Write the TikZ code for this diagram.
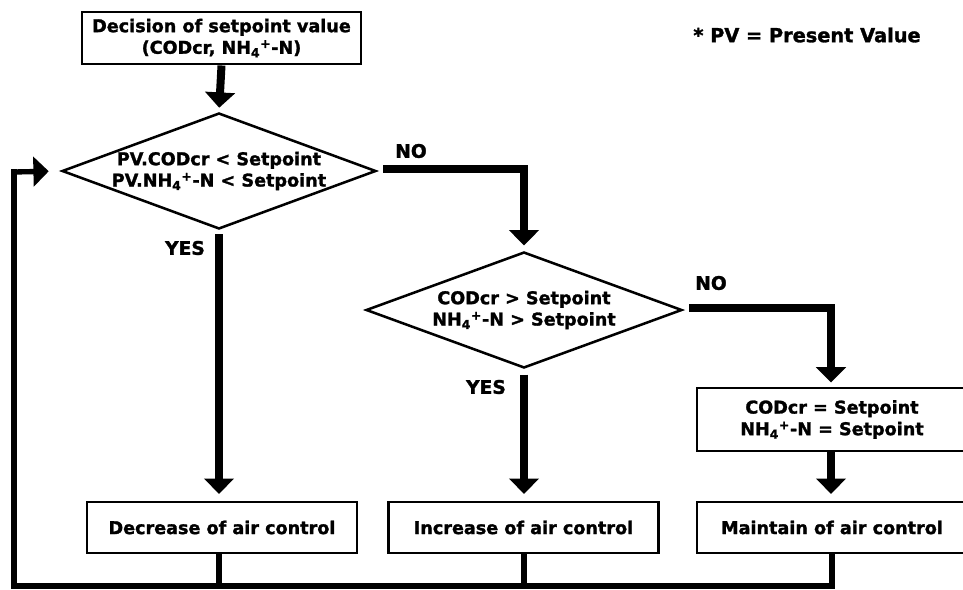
\documentclass[tikz,border=0pt]{standalone}
\usepackage{fontspec}
\setmainfont{DejaVu Sans}[BoldFeatures={FakeBold=1.5}]
\usetikzlibrary{shapes.geometric,arrows.meta}
\tikzset{
  box/.style={draw, line width=2.2pt, fill=white, inner sep=0pt, align=center, font=\bfseries\fontsize{13.2}{16.2}\selectfont},
  dia/.style={draw, diamond, line width=1.9pt, inner sep=0pt},
  dtext/.style={align=center, font=\bfseries\fontsize{13.2}{16}\selectfont},
  lbl/.style={font=\bfseries\fontsize{14}{16}\selectfont, inner sep=0pt},
  conn/.style={line width=6pt},
  back/.style={line width=4pt},
  tip/.style={-{Triangle[width=22pt,length=11.5pt]}},
}
\newcommand{\nhf}{NH\textsubscript{4}\textsuperscript{+}-N}
\begin{document}
\begin{tikzpicture}[x=0.75pt,y=-0.75pt]
\useasboundingbox (0,0) rectangle (963,589);
\clip (0,0) rectangle (963,589);
% nodes
\node[box, minimum width=209.25pt, minimum height=39pt] (top) at (221.5,38) {Decision of setpoint value\\(CODcr, \nhf)};
\node[dia, minimum width=235.5pt, minimum height=87pt] (d1) at (219,171) {};
\node[dtext] (d1t) at (d1.center) {PV.CODcr < Setpoint\\PV.\nhf{} < Setpoint};
\node[dia, minimum width=237pt, minimum height=87pt] (d2) at (524,310) {};
\node[dtext] (d2t) at (d2.center) {CODcr > Setpoint\\\nhf{} > Setpoint};
\node[box, minimum width=202.5pt, minimum height=47.25pt] (eq) at (832,419.5) {CODcr = Setpoint\\\nhf{} = Setpoint};
\node[box, minimum width=202.5pt, minimum height=38.25pt] (dec) at (222,527.5) {Decrease of air control};
\node[box, minimum width=202.5pt, minimum height=38.25pt] (inc) at (523.5,527.5) {Increase of air control};
\node[box, minimum width=202.5pt, minimum height=38.25pt] (mnt) at (832,527.5) {Maintain of air control};
\node[font=\bfseries\fontsize{14.5}{16}\selectfont, inner sep=0pt] (note) at (807,35) {* PV = Present Value};
% coordinates
\coordinate (n1a) at (383,169);
\coordinate (n2a) at (689,308);
\coordinate (n2b) at (831,308);
\coordinate (b0) at (14,586);
\coordinate (b1) at (219,586);
\coordinate (b2) at (524,586);
\coordinate (b3) at (832,586);
\coordinate (l0) at (14,172);
% labels
\node[lbl] (no1) at (411,151) {NO};
\node[lbl] (no2) at (711,283) {NO};
\node[lbl] (yes1) at (185,248) {YES};
\node[lbl] (yes2) at (486,387) {YES};
% connectors
\draw[conn, tip, shorten >=3pt] (top.south) -- (d1.north);
\draw[conn, tip, shorten >=4pt] (n1a) -| (d2.north);
\draw[conn, tip, shorten >=3pt] (n2a) -| (eq.north -| n2b);
\draw[conn, tip, shorten <=3pt, shorten >=5pt] (d1.south) -- (d1.south |- dec.north);
\draw[conn, tip, shorten <=4pt, shorten >=5pt] (d2.south) -- (d2.south |- inc.north);
\draw[conn, tip, shorten >=5pt] (eq.south -| n2b) -- (mnt.north -| n2b);
\draw[back] (dec.south -| b1) -- (b1);
\draw[back] (inc.south -| b2) -- (b2);
\draw[back] (mnt.south -| b3) -- (b3);
\draw[back, line cap=rect] (b3) -- (b0) -- (l0);
\draw[back, tip, shorten >=9pt] (l0) -- (d1.west);
\end{tikzpicture}
\end{document}
